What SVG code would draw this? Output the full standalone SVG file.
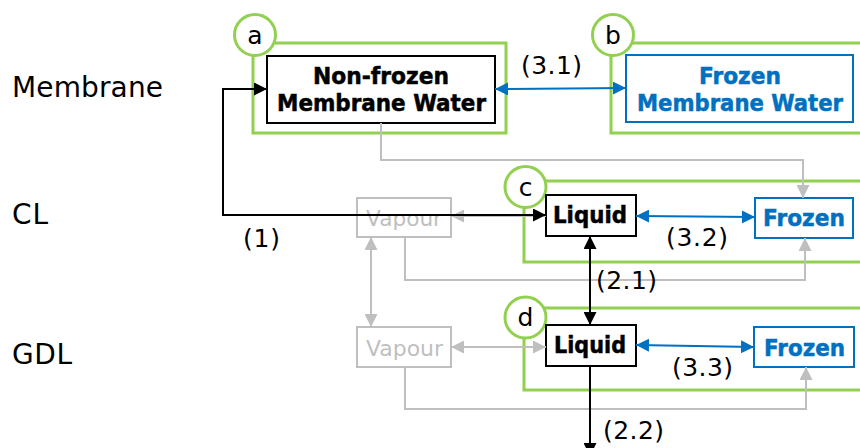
<svg xmlns="http://www.w3.org/2000/svg" width="860" height="448" viewBox="0 0 860 448">
<style>
.zone{fill:none;stroke:#92d050;stroke-width:3}
.badge{fill:#fff;stroke:#92d050;stroke-width:3}
.badgeText{font-family:"DejaVu Sans",Verdana,sans-serif;font-size:25px;fill:#000;text-anchor:middle}
.layer{font-family:"DejaVu Sans",Verdana,sans-serif;font-size:28px;fill:#000}
.lbl{font-family:"DejaVu Sans",Verdana,sans-serif;font-size:25px;fill:#000}
.bold{font-family:"DejaVu Sans",Verdana,sans-serif;font-size:22.5px;font-weight:bold;stroke-width:0.5}
.kt{fill:#000;stroke:#000}
.bt{fill:#0070c0;stroke:#0070c0}
.kbox{fill:#fff;stroke:#000;stroke-width:2}
.bbox{fill:#fff;stroke:#0070c0;stroke-width:2}
.gbox{fill:#fff;stroke:#bfbfbf;stroke-width:2}
.vap{font-family:"DejaVu Sans",Verdana,sans-serif;font-size:21.5px;fill:#bfbfbf}
.k{fill:none;stroke:#000;stroke-width:2}
.b{fill:none;stroke:#0070c0;stroke-width:2}
.g{fill:none;stroke:#bfbfbf;stroke-width:2}
</style>
<defs>
<marker id="mk" markerUnits="userSpaceOnUse" markerWidth="13" markerHeight="13" refX="13" refY="6.5" orient="auto-start-reverse"><path d="M0,0 L13,6.5 L0,13 z" fill="#000"/></marker>
<marker id="mb" markerUnits="userSpaceOnUse" markerWidth="13" markerHeight="13" refX="13" refY="6.5" orient="auto-start-reverse"><path d="M0,0 L13,6.5 L0,13 z" fill="#0070c0"/></marker>
<marker id="mg" markerUnits="userSpaceOnUse" markerWidth="13" markerHeight="13" refX="13" refY="6.5" orient="auto-start-reverse"><path d="M0,0 L13,6.5 L0,13 z" fill="#bfbfbf"/></marker>
</defs>
<rect width="860" height="448" fill="#fff"/>

<g id="layer-labels">
<text class="layer" x="12" y="97" textLength="151">Membrane</text>
<text class="layer" x="12" y="224" textLength="36">CL</text>
<text class="layer" x="12" y="364" textLength="60">GDL</text>
</g>

<g id="zone-a"><rect class="zone" x="253" y="43" width="253" height="90"/><circle class="badge" cx="255" cy="35" r="20.5"/><text class="badgeText" x="255" y="44">a</text></g>
<g id="zone-b"><rect class="zone" x="611" y="43" width="260" height="90"/><circle class="badge" cx="613" cy="35" r="20.5"/><text class="badgeText" x="613" y="44">b</text></g>
<g id="zone-c"><rect class="zone" x="524" y="181" width="347" height="81"/><circle class="badge" cx="525.5" cy="187" r="20.5"/><text class="badgeText" x="525.5" y="196">c</text></g>
<g id="zone-d"><rect class="zone" x="524" y="308" width="347" height="82"/><circle class="badge" cx="525.5" cy="317.5" r="20.5"/><text class="badgeText" x="525.5" y="326">d</text></g>

<g id="nonfrozen-membrane"><rect class="kbox" x="267" y="56" width="228" height="67"/>
<text class="bold kt" x="313" y="84" textLength="136" lengthAdjust="spacingAndGlyphs">Non-frozen</text>
<text class="bold kt" x="277" y="111" textLength="209" lengthAdjust="spacingAndGlyphs">Membrane Water</text></g>
<g id="frozen-membrane"><rect class="bbox" x="626" y="55" width="227" height="67"/>
<text class="bold bt" x="699" y="84" textLength="82" lengthAdjust="spacingAndGlyphs">Frozen</text>
<text class="bold bt" x="637" y="111" textLength="206" lengthAdjust="spacingAndGlyphs">Membrane Water</text></g>
<g id="vapour-cl"><rect class="gbox" x="357" y="198" width="94" height="39"/><text class="vap" x="366" y="226" textLength="76" lengthAdjust="spacingAndGlyphs">Vapour</text></g>
<g id="liquid-cl"><rect class="kbox" x="546" y="195" width="90" height="41"/><text class="bold kt" x="553" y="223" textLength="74" lengthAdjust="spacingAndGlyphs">Liquid</text></g>
<g id="frozen-cl"><rect class="bbox" x="755" y="198" width="98" height="40"/><text class="bold bt" x="763" y="226" textLength="82" lengthAdjust="spacingAndGlyphs">Frozen</text></g>
<g id="vapour-gdl"><rect class="gbox" x="357" y="327" width="94" height="40"/><text class="vap" x="366" y="356" textLength="77" lengthAdjust="spacingAndGlyphs">Vapour</text></g>
<g id="liquid-gdl"><rect class="kbox" x="546" y="325" width="90" height="41"/><text class="bold kt" x="554" y="353" textLength="72" lengthAdjust="spacingAndGlyphs">Liquid</text></g>
<g id="frozen-gdl"><rect class="bbox" x="754" y="327" width="100" height="40"/><text class="bold bt" x="764" y="356" textLength="81" lengthAdjust="spacingAndGlyphs">Frozen</text></g>

<g id="connectors">
<path class="g" d="M381,123 V160 H803 V198" marker-end="url(#mg)"/>
<path class="g" d="M405,237 V280 H805 V238" marker-end="url(#mg)"/>
<path class="g" d="M405,367 V409 H806 V367" marker-end="url(#mg)"/>
<path class="g" d="M371,237 V327" marker-start="url(#mg)" marker-end="url(#mg)"/>
<path class="g" d="M546,216 H451" marker-end="url(#mg)"/>
<path class="g" d="M451,347 H546" marker-start="url(#mg)" marker-end="url(#mg)"/>
<path class="k" d="M546,215 H223 V89 H267" marker-start="url(#mk)" marker-end="url(#mk)"/>
<path class="b" d="M495,89 L626,88" marker-start="url(#mb)" marker-end="url(#mb)"/>
<path class="b" d="M636,216 L755,217" marker-start="url(#mb)" marker-end="url(#mb)"/>
<path class="b" d="M636,345 L754,347" marker-start="url(#mb)" marker-end="url(#mb)"/>
<path class="k" d="M590,236 V325" marker-start="url(#mk)" marker-end="url(#mk)"/>
<path class="k" d="M590,366 V456" marker-end="url(#mk)"/>
<text class="lbl" x="243" y="247" textLength="37">(1)</text>
<text class="lbl" x="521" y="74" textLength="61">(3.1)</text>
<text class="lbl" x="666" y="246" textLength="62">(3.2)</text>
<text class="lbl" x="672" y="376" textLength="61">(3.3)</text>
<text class="lbl" x="596" y="289" textLength="61">(2.1)</text>
<text class="lbl" x="603" y="439" textLength="61">(2.2)</text>
</g>
</svg>
